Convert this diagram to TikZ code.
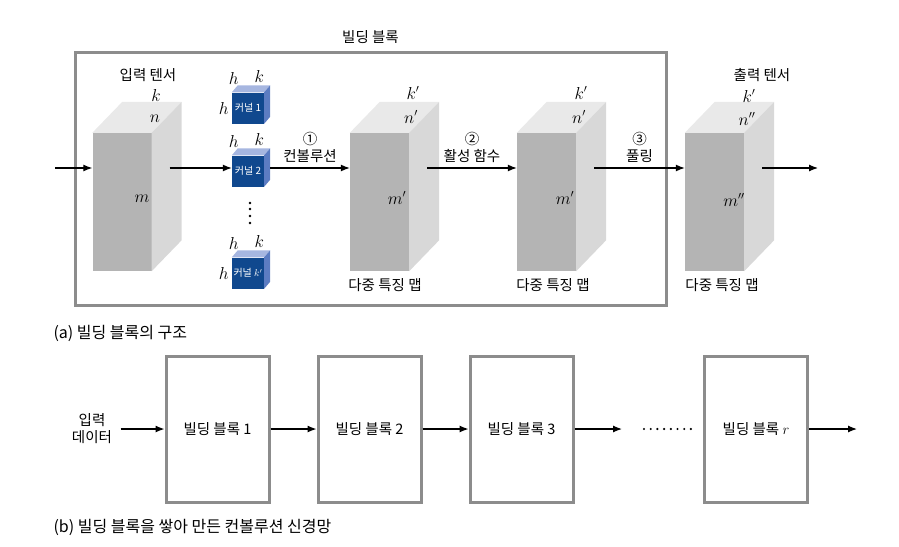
\documentclass[tikz,border=0pt]{standalone}
\usepackage{fontspec}
\setmainfont{Noto Sans CJK KR}
\usetikzlibrary{arrows.meta}

\definecolor{facegray}{RGB}{180,180,180}
\definecolor{sidegray}{RGB}{216,216,216}
\definecolor{topgray}{RGB}{233,233,233}
\definecolor{kernfront}{RGB}{16,72,142}
\definecolor{kernside}{RGB}{92,124,194}
\definecolor{kerntop}{RGB}{166,182,224}
\definecolor{framegray}{RGB}{140,140,140}

\tikzset{
  arr/.style={-{Latex[length=9pt,width=7pt]},line width=1.2pt},
  frontface/.style={fill=facegray,inner sep=0pt,minimum width=59pt,minimum height=138pt},
  kernface/.style={fill=kernfront,text=white,inner sep=0pt,minimum width=32pt,
    minimum height=31pt,font=\fontsize{10}{11}\selectfont},
  stage/.style={draw=framegray,line width=3pt,inner sep=0pt,minimum width=103pt,
    minimum height=146pt},
  dim/.style={font=\fontsize{16}{18}\selectfont},
  caption/.style={anchor=west,font=\fontsize{16}{18}\selectfont},
}

% tensor: front face as node, top and side faces drawn round it
\newcommand{\tensor}[2]{%
  \node[frontface] (#1) at (#2) {};
  \fill[topgray] (#1.north west) -- ++(30,-31) -- ([shift={(30,-31)}]#1.north east)
    -- (#1.north east) -- cycle;
  \fill[sidegray] (#1.north east) -- ([shift={(30,-31)}]#1.north east)
    -- ([shift={(30,-31)}]#1.south east) -- (#1.south east) -- cycle;
  \coordinate (#1-side) at ([xshift=18pt]#1.east);
}

% kernel cube with its top h and k labels
\newcommand{\kerncube}[3]{%
  \node[kernface] (#1) at (#2) {#3};
  \fill[kerntop] (#1.north west) -- ++(6,-7) -- ([shift={(6,-7)}]#1.north east)
    -- (#1.north east) -- cycle;
  \fill[kernside] (#1.north east) -- ([shift={(6,-7)}]#1.north east)
    -- ([shift={(6,-7)}]#1.south east) -- (#1.south east) -- cycle;
  \node[dim] at ([shift={(2,-14)}]#1.north west) {$h$};
  \node[dim] at ([shift={(-5,-16)}]#1.north east) {$k$};
  \coordinate (#1-side) at ([xshift=6pt]#1.east);
}

\begin{document}
\begin{tikzpicture}[x=1pt,y=-1pt,font=\fontsize{14.5}{17}\selectfont]
  \useasboundingbox (0,0) rectangle (899,546);

  % (a) building block
  \node[draw=framegray,line width=3pt,inner sep=0pt,minimum width=591pt,
    minimum height=253pt] (block) at (370.5,178.5) {};
  \node[above=3pt] (blocklbl) at (block.north) {빌딩 블록};
  \coordinate (lv) at (0,168);

  \tensor{in}{122,202}
  \tensor{conv}{379.5,202}
  \tensor{act}{546.5,202}
  \tensor{out}{714.5,202}

  \kerncube{k1}{248,108}{커널 1}
  \kerncube{k2}{248,171}{커널 2}
  \kerncube{k3}{248,273}{커널 $k'$}
  \node[dim] at ([xshift=-8pt]k1.west) {$h$};
  \node[dim] at ([xshift=-8pt]k3.west) {$h$};
  \foreach \y in {203,209,216,223}
    \fill (250,\y) circle (1.3);

  \node (inlbl) at (148,75) {입력 텐서};
  \node[dim] at (156,95) {$k$};
  \node[dim] at (155,119) {$n$};
  \node[dim] at (142,199) {$m$};

  \node[dim] at (413,93) {$k'$};
  \node[dim] at (411,117) {$n'$};
  \node[dim] at (397,198) {$m'$};
  \node (conv lbl) at (385,285) {다중 특징 맵};

  \node[dim] at (581,93) {$k'$};
  \node[dim] at (579,117) {$n'$};
  \node[dim] at (565,198) {$m'$};
  \node (act lbl) at (553,285) {다중 특징 맵};

  \node (outlbl) at (762,75) {출력 텐서};
  \node[dim] at (749,96) {$k'$};
  \node[dim] at (747,119) {$n''$};
  \node[dim] at (734,200) {$m''$};
  \node (out lbl) at (722,285) {다중 특징 맵};

  \coordinate (src) at (55,168);
  \coordinate (sink) at (818,168);
  \draw[arr] (src) -- (in.west |- lv);
  \draw[arr] (in-side |- lv) -- (k2.west |- lv);
  \draw[arr] (k2-side |- lv) -- node[above=1pt,align=center] {①\\컨볼루션} (conv.west |- lv);
  \draw[arr] (conv-side |- lv) -- node[above=1pt,align=center] {②\\활성 함수} (act.west |- lv);
  \draw[arr] (act-side |- lv) -- node[above=1pt,align=center] {③\\풀링} (out.west |- lv);
  \draw[arr] (out-side |- lv) -- (sink);

  \node[caption] (capa) at (50,333) {(a) 빌딩 블록의 구조};

  % (b) stacked building blocks
  \node[align=center] (data) at (92,429) {입력\\데이터};
  \node[stage] (b1) at (217.5,429) {빌딩 블록 1};
  \node[stage] (b2) at (369.5,429) {빌딩 블록 2};
  \node[stage] (b3) at (521.5,429) {빌딩 블록 3};
  \node[stage] (br) at (756,429) {빌딩 블록 $r$};
  \coordinate (gap) at (622,429);
  \coordinate (end) at (857,429);
  \foreach \i in {0,...,7}
    \fill (644+\i*6.7,429) circle (1.2);

  \draw[arr] ([xshift=5pt]data.east) -- (b1.west);
  \draw[arr] (b1.east) -- (b2.west);
  \draw[arr] (b2.east) -- (b3.west);
  \draw[arr] (b3.east) -- (gap);
  \draw[arr] (br.east) -- (end);

  \node[caption] (capb) at (50,527) {(b) 빌딩 블록을 쌓아 만든 컨볼루션 신경망};
\end{tikzpicture}
\end{document}
